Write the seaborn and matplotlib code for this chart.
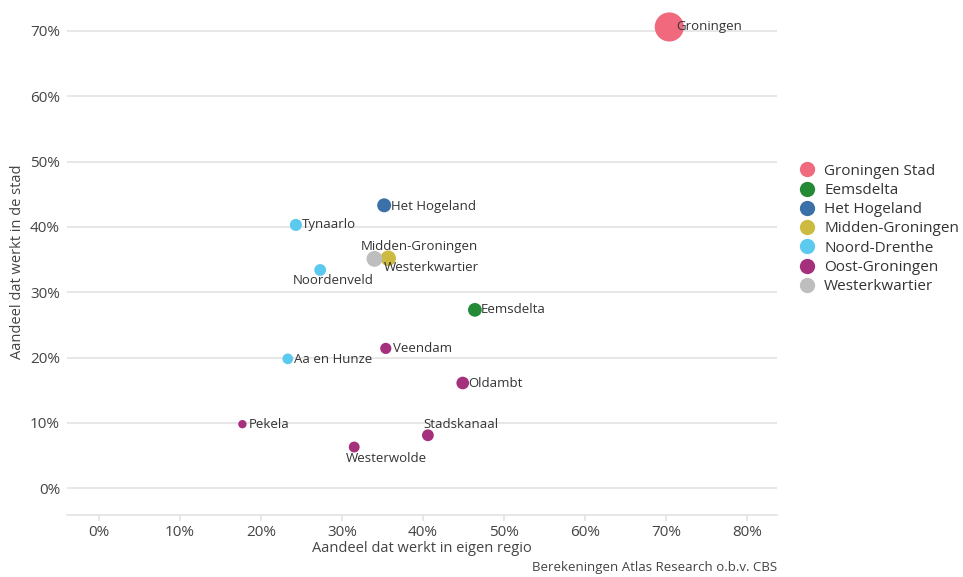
import pandas as pd
import matplotlib.pyplot as plt
import seaborn as sns
from matplotlib.lines import Line2D
from matplotlib.ticker import PercentFormatter

# Gemeenten, regio's en aandelen (in %)
gemeenten = ['Groningen', 'Het Hogeland', 'Tynaarlo', 'Midden-Groningen', 'Westerkwartier',
             'Noordenveld', 'Eemsdelta', 'Veendam', 'Aa en Hunze', 'Oldambt',
             'Pekela', 'Stadskanaal', 'Westerwolde']
regio = ['Groningen Stad', 'Het Hogeland', 'Noord-Drenthe', 'Midden-Groningen', 'Westerkwartier',
         'Noord-Drenthe', 'Eemsdelta', 'Oost-Groningen', 'Noord-Drenthe', 'Oost-Groningen',
         'Oost-Groningen', 'Oost-Groningen', 'Oost-Groningen']
eigen_regio = [70.4, 35.2, 24.3, 35.7, 34.0, 27.3, 46.4, 35.4, 23.3, 44.9, 17.7, 40.6, 31.5]
in_stad = [70.6, 43.3, 40.3, 35.2, 35.1, 33.4, 27.3, 21.4, 19.8, 16.1, 9.8, 8.1, 6.3]
inwoners = [235, 48, 34, 61, 64, 32, 46, 28, 25, 38, 12, 32, 26]  # x 1000, ongeveer

regio_volgorde = ['Groningen Stad', 'Eemsdelta', 'Het Hogeland', 'Midden-Groningen',
                  'Noord-Drenthe', 'Oost-Groningen', 'Westerkwartier']
kleuren = ['#F0697D', '#258A35', '#3C70A9', '#CDBA40', '#5CC9EF', '#A5307B', '#BEBEBE']

df = pd.DataFrame({'gemeente': gemeenten, 'regio': regio, 'x': eigen_regio,
                   'y': in_stad, 'inwoners': inwoners})

sns.set_theme(style="white")
plt.rcParams['font.family'] = ['Open Sans', 'DejaVu Sans']

fig = plt.figure(figsize=(9.63, 5.77), dpi=100)
ax = fig.add_axes([0.0696, 0.1075, 0.7373, 0.8786])

sns.scatterplot(data=df, x='x', y='y', hue='regio', hue_order=regio_volgorde,
                palette=kleuren, size='inwoners', sizes=(36, 440),
                linewidth=0, alpha=1, legend=False, ax=ax, zorder=3)

# label-posities (offset in pixels t.o.v. het punt)
offsets = {
    'Groningen': (7, 0, 'left'), 'Het Hogeland': (7, -1, 'left'),
    'Tynaarlo': (6, 0, 'left'), 'Midden-Groningen': (-27, 12, 'left'),
    'Westerkwartier': (9, -9, 'left'), 'Noordenveld': (-27, -11, 'left'),
    'Eemsdelta': (6, 0, 'left'), 'Veendam': (7, 0, 'left'),
    'Aa en Hunze': (6, -1, 'left'), 'Oldambt': (6, 0, 'left'),
    'Pekela': (6, 0, 'left'), 'Stadskanaal': (-5, 11, 'left'),
    'Westerwolde': (-8, -11, 'left'),
}
for _, r in df.iterrows():
    dx, dy, ha = offsets[r['gemeente']]
    ax.annotate(r['gemeente'], (r['x'], r['y']), xytext=(dx, dy),
                textcoords='offset pixels', ha=ha, va='center',
                fontsize=9.5, color='#333333', zorder=4)

ax.set_xlim(-3.95, 83.7)
ax.set_ylim(-4.1, 73.5)
ax.set_xticks(range(0, 81, 10))
ax.set_yticks(range(0, 71, 10))
ax.xaxis.set_major_formatter(PercentFormatter(decimals=0))
ax.yaxis.set_major_formatter(PercentFormatter(decimals=0))
ax.yaxis.grid(True, color='#E3E3E3', linewidth=1.2)
ax.xaxis.grid(False)
for s in ['top', 'right', 'left']:
    ax.spines[s].set_visible(False)
ax.spines['bottom'].set_color('#E3E3E3')
ax.spines['bottom'].set_linewidth(1.2)
ax.tick_params(axis='x', bottom=True, length=4, color='#E3E3E3', labelsize=11,
               labelcolor='#444444', pad=3)
ax.tick_params(axis='y', left=False, length=0, labelsize=11, labelcolor='#444444', pad=5)

ax.set_xlabel('Aandeel dat werkt in eigen regio', fontsize=10.5, color='#444444', labelpad=1)
ax.set_ylabel('Aandeel dat werkt in de stad', fontsize=10.5, color='#444444', labelpad=4)

handles = [Line2D([0], [0], marker='o', linestyle='', markersize=11,
                  markerfacecolor=c, markeredgewidth=0) for c in kleuren]
fig.legend(handles, regio_volgorde, loc='upper left', bbox_to_anchor=(0.816, 0.727),
           frameon=False, fontsize=11, labelspacing=0.28, handletextpad=0.1,
           labelcolor='#333333', borderaxespad=0)

fig.text(0.807, 0.006, 'Berekeningen Atlas Research o.b.v. CBS', ha='right', va='bottom',
         fontsize=9.5, color='#444444')

plt.savefig('out.png', dpi=100)
